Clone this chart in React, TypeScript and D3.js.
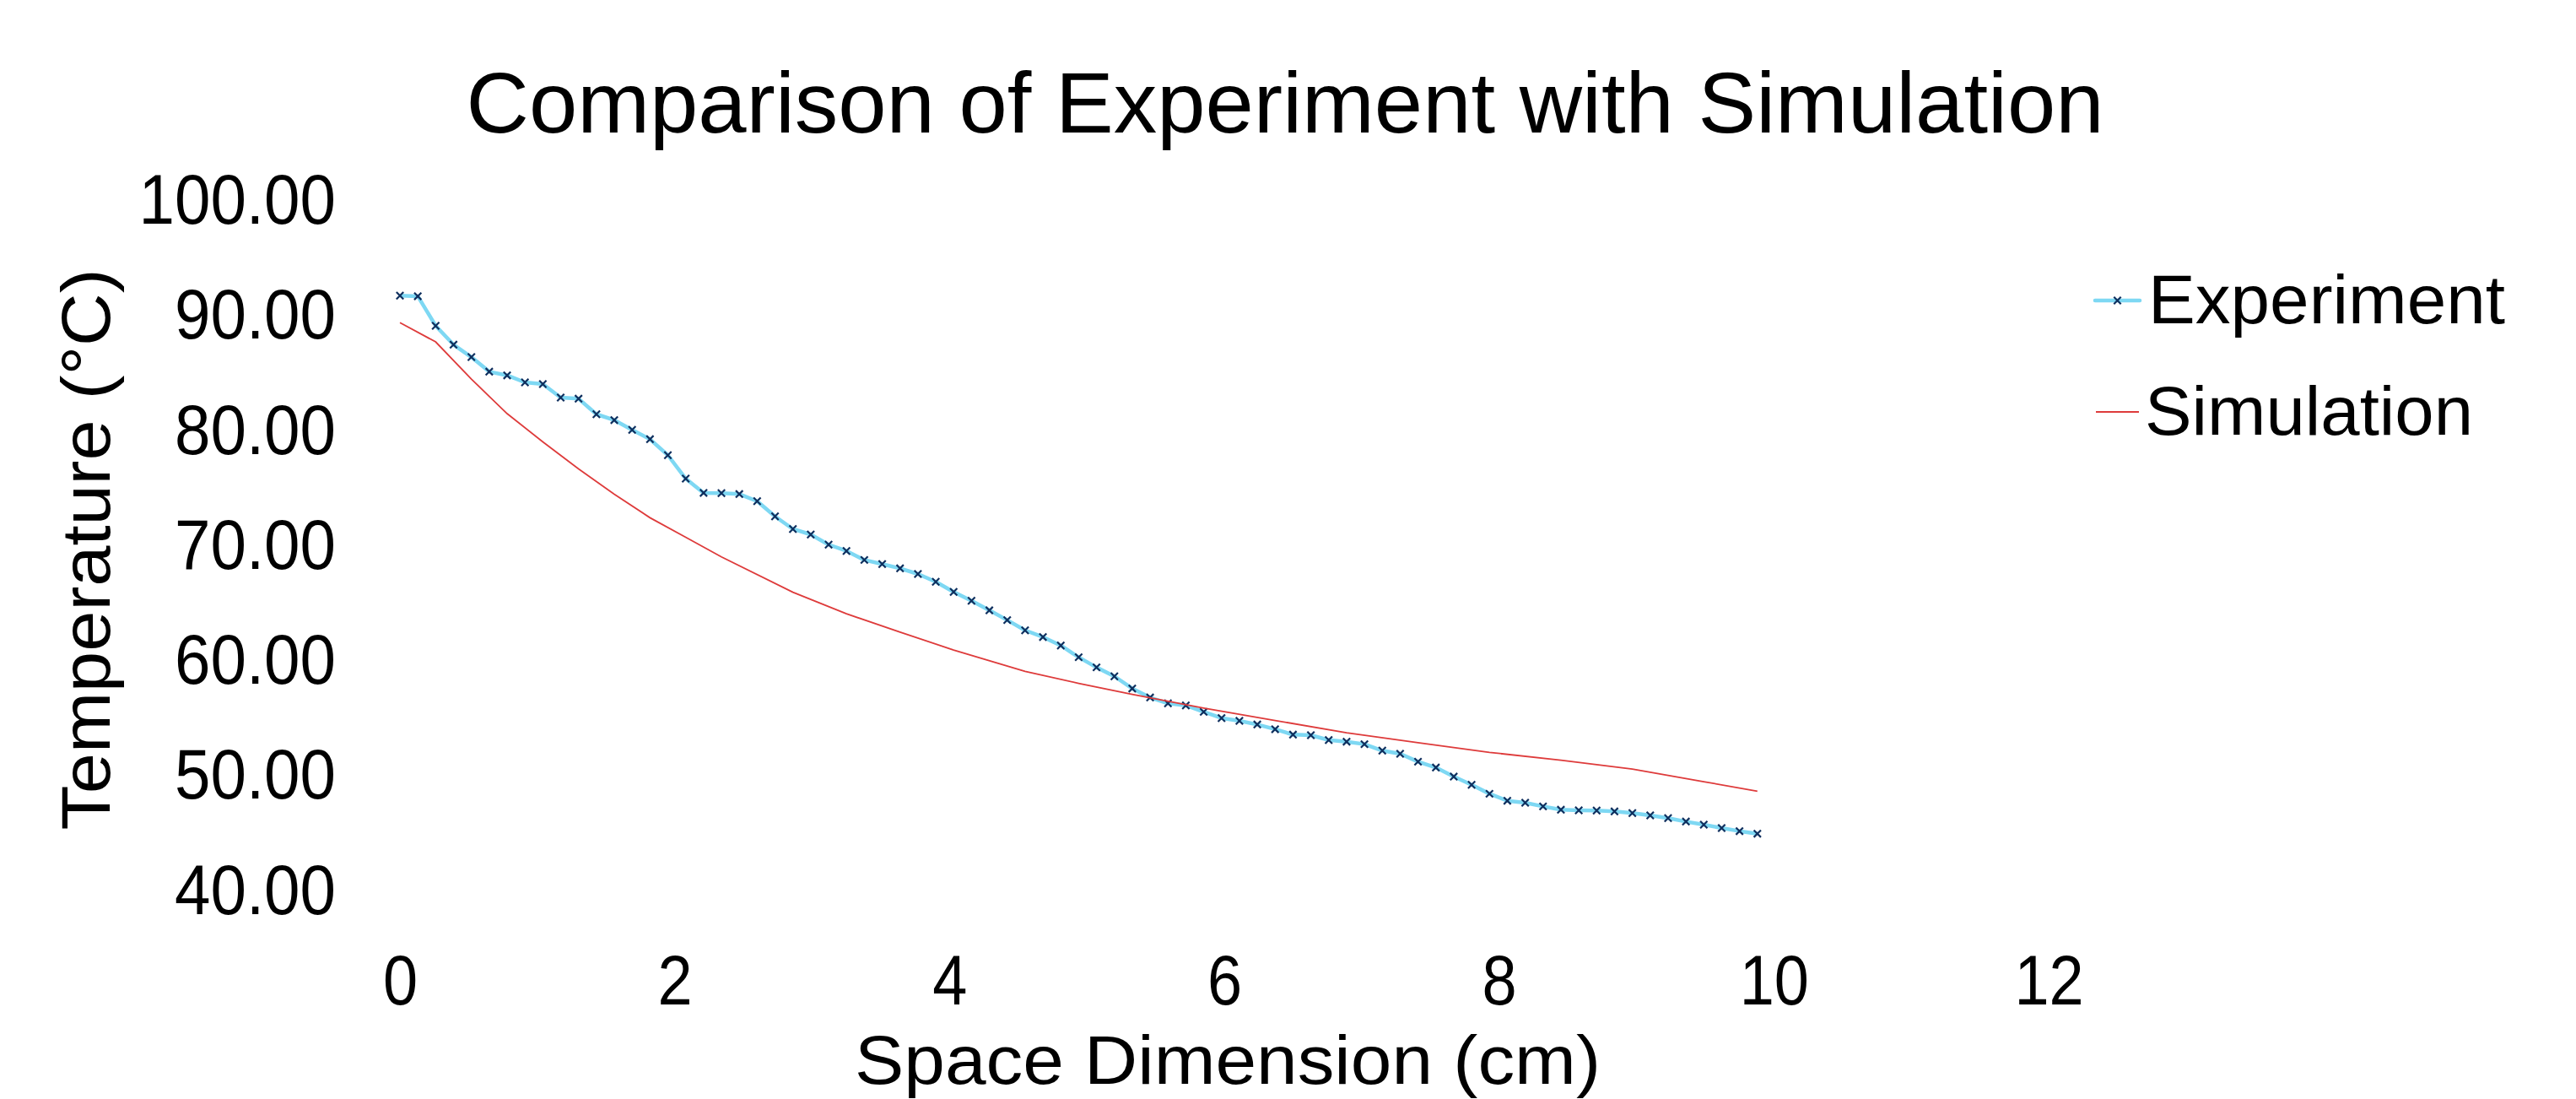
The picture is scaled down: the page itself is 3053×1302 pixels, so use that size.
import React, { useEffect, useRef } from "react";
import * as d3 from "d3";

// distance along the bar (cm) where each thermometer reading was taken
const expX = [
  0, 0.13, 0.26, 0.39, 0.52, 0.65, 0.78, 0.91, 1.04, 1.17, 1.3, 1.43, 1.56,
  1.69, 1.82, 1.95, 2.08, 2.21, 2.34, 2.47, 2.6, 2.73, 2.86, 2.99, 3.12, 3.25,
  3.38, 3.51, 3.64, 3.77, 3.9, 4.03, 4.16, 4.29, 4.42, 4.55, 4.68, 4.81, 4.94,
  5.07, 5.2, 5.33, 5.46, 5.59, 5.72, 5.85, 5.98, 6.11, 6.24, 6.37, 6.5, 6.63,
  6.76, 6.89, 7.02, 7.15, 7.28, 7.41, 7.54, 7.67, 7.8, 7.93, 8.06, 8.19, 8.32,
  8.45, 8.58, 8.71, 8.84, 8.97, 9.1, 9.23, 9.36, 9.49, 9.62, 9.75, 9.88,
];
const expTemp = [
  91.76, 91.71, 89.14, 87.5, 86.42, 85.15, 84.83, 84.22, 84.07, 82.9, 82.8,
  81.45, 80.94, 80.09, 79.28, 77.89, 75.85, 74.61, 74.59, 74.51, 73.89, 72.57,
  71.47, 70.99, 70.11, 69.56, 68.78, 68.42, 68.05, 67.56, 66.88, 66.0, 65.23,
  64.4, 63.55, 62.66, 62.08, 61.34, 60.32, 59.44, 58.66, 57.6, 56.82, 56.31,
  56.13, 55.57, 55.03, 54.79, 54.47, 54.06, 53.59, 53.54, 53.12, 52.98, 52.76,
  52.2, 51.93, 51.24, 50.73, 49.94, 49.23, 48.45, 47.84, 47.67, 47.35, 47.06,
  47.01, 46.99, 46.91, 46.77, 46.57, 46.33, 46.03, 45.76, 45.47, 45.2, 44.98,
];

const simX = [
  0, 0.26, 0.52, 0.78, 1.04, 1.3, 1.56, 1.82, 2.08, 2.34, 2.86, 3.25, 3.64,
  4.03, 4.55, 4.94, 5.33, 5.85, 6.37, 6.89, 7.41, 7.93, 8.45, 8.97, 9.49, 9.88,
];
const simTemp = [
  89.41, 87.74, 84.5, 81.5, 79.05, 76.7, 74.5, 72.45, 70.75, 69.05, 65.97, 64.1,
  62.5, 60.95, 59.1, 58.05, 57.1, 55.9, 54.82, 53.75, 52.89, 52.05, 51.36, 50.6,
  49.5, 48.67,
];

const xTicks = [0, 2, 4, 6, 8, 10, 12];
const yTicks = [40, 50, 60, 70, 80, 90, 100];
const seriesNames = ["Experiment", "Simulation"];

const FONT = "'Liberation Sans', Arial, sans-serif";
const EXP_LINE = "#7ED8F3";
const EXP_MARK = "#0F2F5E";
const SIM_LINE = "#DE3B3B";

const cross = "M-4.2,-4.2L4.2,4.2M-4.2,4.2L4.2,-4.2";

export default function App() {
  const svgRef = useRef<SVGSVGElement>(null);

  useEffect(() => {
    const svg = d3.select(svgRef.current);
    svg.selectAll("*").remove();

    const x = d3.scaleLinear().domain([0, 12]).range([474, 2428]);
    const y = d3.scaleLinear().domain([40, 100]).range([1055.5, 238]);

    // title
    svg
      .append("text")
      .attr("x", 1523)
      .attr("y", 157)
      .attr("text-anchor", "middle")
      .attr("font-family", FONT)
      .attr("font-size", 102)
      .attr("textLength", 1941)
      .attr("lengthAdjust", "spacingAndGlyphs")
      .text("Comparison of Experiment with Simulation");

    // axes (labels only, no lines)
    const yPad = 76;
    const yStretch = 0.92;
    const yAxis = d3
      .axisLeft(y)
      .tickValues(yTicks)
      .tickFormat((d) => d3.format(".2f")(d as number))
      .tickSize(0)
      .tickPadding(yPad);
    const gy = svg.append("g").attr("transform", `translate(${x(0)},0)`).call(yAxis);
    gy.select(".domain").remove();
    gy.selectAll("text")
      .attr("font-family", FONT)
      .attr("font-size", 83)
      .attr("fill", "#000")
      .attr("x", -yPad / yStretch)
      .attr("transform", `scale(${yStretch},1)`);

    const xAxis = d3
      .axisBottom(x)
      .tickValues(xTicks)
      .tickFormat((d) => String(d))
      .tickSize(0)
      .tickPadding(75);
    const gx = svg.append("g").attr("transform", `translate(0,${y(40)})`).call(xAxis);
    gx.select(".domain").remove();
    gx.selectAll("text")
      .attr("font-family", FONT)
      .attr("font-size", 84)
      .attr("fill", "#000")
      .attr("transform", "scale(0.88,1)");

    // axis titles
    svg
      .append("text")
      .attr("x", 1455)
      .attr("y", 1284)
      .attr("text-anchor", "middle")
      .attr("font-family", FONT)
      .attr("font-size", 81)
      .attr("textLength", 884)
      .attr("lengthAdjust", "spacingAndGlyphs")
      .text("Space Dimension (cm)");

    svg
      .append("text")
      .attr("transform", "translate(130,651) rotate(-90)")
      .attr("text-anchor", "middle")
      .attr("font-family", FONT)
      .attr("font-size", 81)
      .attr("textLength", 665)
      .attr("lengthAdjust", "spacingAndGlyphs")
      .text("Temperature (°C)");

    const line = d3
      .line<[number, number]>()
      .x((d) => x(d[0]))
      .y((d) => y(d[1]));

    // experiment series
    const expData = d3.zip(expX, expTemp) as [number, number][];
    svg
      .append("path")
      .datum(expData)
      .attr("d", line)
      .attr("fill", "none")
      .attr("stroke", EXP_LINE)
      .attr("stroke-width", 4.5)
      .attr("stroke-linejoin", "round");
    svg
      .append("g")
      .selectAll("path")
      .data(expData)
      .join("path")
      .attr("d", cross)
      .attr("transform", (d) => `translate(${x(d[0])},${y(d[1])})`)
      .attr("stroke", EXP_MARK)
      .attr("stroke-width", 2.2)
      .attr("fill", "none");

    // simulation series
    const simData = d3.zip(simX, simTemp) as [number, number][];
    svg
      .append("path")
      .datum(simData)
      .attr("d", line)
      .attr("fill", "none")
      .attr("stroke", SIM_LINE)
      .attr("stroke-width", 1.8);

    // legend
    const legend = svg.append("g");
    const rows = [
      { name: seriesNames[0], lineY: 356, textX: 2546, textY: 383, len: 423 },
      { name: seriesNames[1], lineY: 488, textX: 2542, textY: 515, len: 389 },
    ];
    legend
      .append("line")
      .attr("x1", 2483)
      .attr("x2", 2536)
      .attr("y1", rows[0].lineY)
      .attr("y2", rows[0].lineY)
      .attr("stroke", EXP_LINE)
      .attr("stroke-width", 4.5)
      .attr("stroke-linecap", "round");
    legend
      .append("path")
      .attr("d", cross)
      .attr("transform", `translate(2509.5,${rows[0].lineY})`)
      .attr("stroke", EXP_MARK)
      .attr("stroke-width", 2.2);
    legend
      .append("line")
      .attr("x1", 2484)
      .attr("x2", 2535)
      .attr("y1", rows[1].lineY)
      .attr("y2", rows[1].lineY)
      .attr("stroke", SIM_LINE)
      .attr("stroke-width", 1.8);
    legend
      .selectAll("text")
      .data(rows)
      .join("text")
      .attr("x", (d) => d.textX)
      .attr("y", (d) => d.textY)
      .attr("font-family", FONT)
      .attr("font-size", 81)
      .attr("textLength", (d) => d.len)
      .attr("lengthAdjust", "spacingAndGlyphs")
      .text((d) => d.name);
  }, []);

  return (
    <svg
      ref={svgRef}
      width={3053}
      height={1302}
      style={{ position: "absolute", left: 0, top: 0, background: "#fff", display: "block" }}
    />
  );
}
